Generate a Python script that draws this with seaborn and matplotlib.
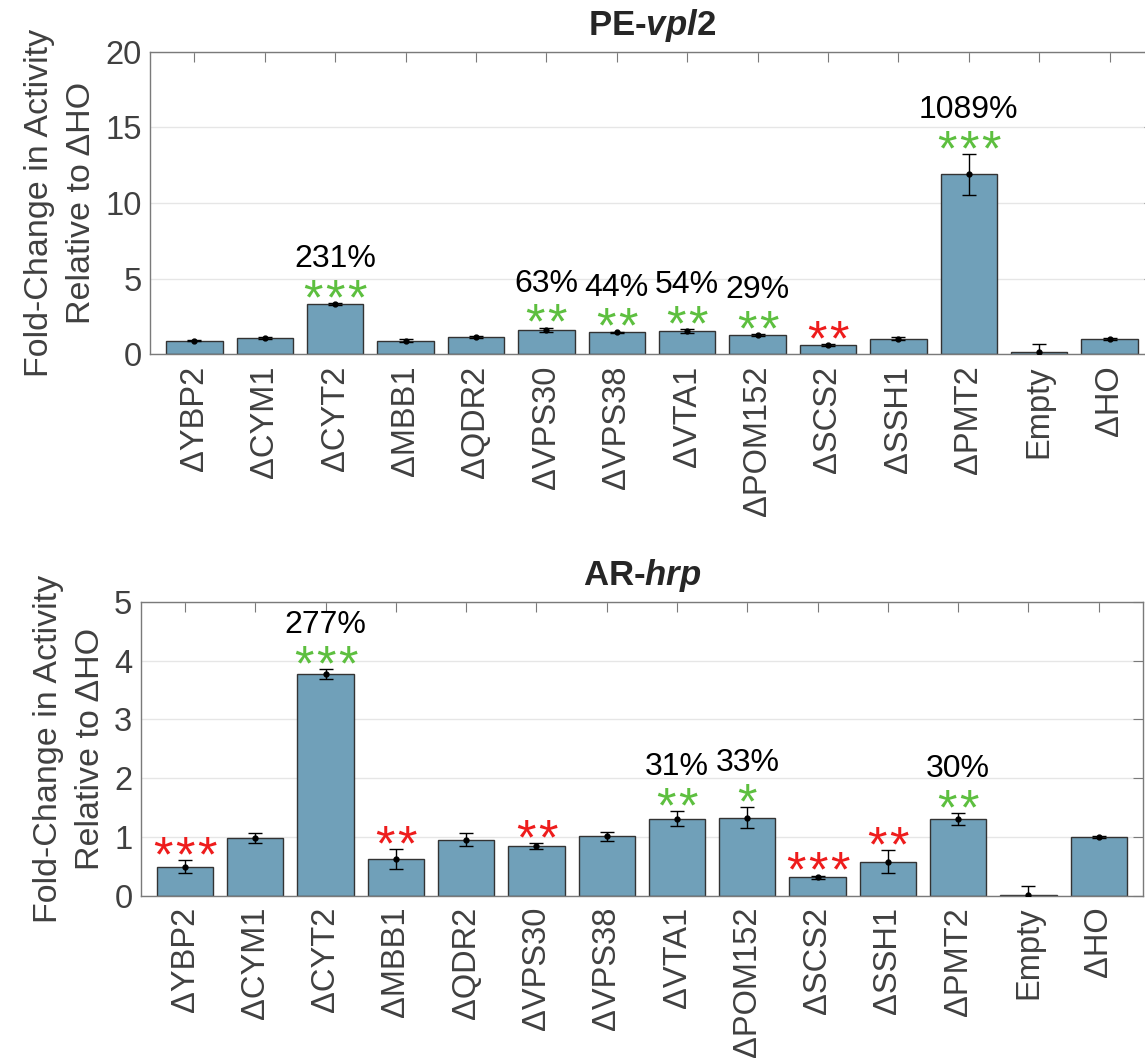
import matplotlib
matplotlib.use("Agg")
import matplotlib.pyplot as plt
import seaborn as sns
import pandas as pd
import numpy as np

categories = ["ΔYBP2", "ΔCYM1", "ΔCYT2", "ΔMBB1", "ΔQDR2", "ΔVPS30", "ΔVPS38",
              "ΔVTA1", "ΔPOM152", "ΔSCS2", "ΔSSH1", "ΔPMT2", "Empty", "ΔHO"]

pe_values = [0.90, 1.06, 3.31, 0.88, 1.16, 1.63, 1.44, 1.54, 1.29, 0.61, 1.02, 11.89, 0.18, 1.00]
pe_errors = [0.04, 0.07, 0.05, 0.10, 0.07, 0.13, 0.05, 0.13, 0.05, 0.06, 0.10, 1.36, 0.50, 0.08]
pe_stars = ["", "", "***", "", "", "**", "**", "**", "**", "**", "", "***", "", ""]
pe_direction = [0, 0, 1, 0, 0, 1, 1, 1, 1, -1, 0, 1, 0, 0]
pe_pct = ["", "", "231%", "", "", "63%", "44%", "54%", "29%", "", "", "1089%", "", ""]

ar_values = [0.49, 0.98, 3.77, 0.62, 0.95, 0.85, 1.01, 1.31, 1.33, 0.31, 0.58, 1.30, 0.02, 1.00]
ar_errors = [0.11, 0.08, 0.09, 0.17, 0.11, 0.05, 0.08, 0.13, 0.18, 0.03, 0.19, 0.10, 0.15, 0.01]
ar_stars = ["***", "", "***", "**", "", "**", "", "**", "*", "***", "**", "**", "", ""]
ar_direction = [-1, 0, 1, -1, 0, -1, 0, 1, 1, -1, -1, 1, 0, 0]
ar_pct = ["", "", "277%", "", "", "", "", "31%", "33%", "", "", "30%", "", ""]

pe_yticks = [0, 5, 10, 15, 20]
ar_yticks = [0, 1, 2, 3, 4, 5]

sns.set_style("white")
plt.rcParams["font.family"] = ["Liberation Sans", "DejaVu Sans"]
plt.rcParams["mathtext.fontset"] = "custom"
plt.rcParams["mathtext.it"] = "Liberation Sans:italic:bold"
plt.rcParams["mathtext.rm"] = "Liberation Sans:bold"

BAR = "#70a0b9"
GREEN = "#5dbf3f"
RED = "#ee1c1c"
GRAY_TXT = "#404040"
SPINE = "#7a7a7a"

fig = plt.figure(figsize=(11.45, 10.62), dpi=100)
ax1 = fig.add_axes([0.1310, 0.6664, 0.8768, 0.2849])
ax2 = fig.add_axes([0.1229, 0.1566, 0.8754, 0.2766])

STAR_PITCH = 15.8  # points


def draw(ax, values, errors, stars, direction, pct, ymax, yticks, title):
    df = pd.DataFrame({"cat": categories, "val": values})
    sns.barplot(data=df, x="cat", y="val", color=BAR, saturation=1, width=0.8,
                edgecolor="#333333", linewidth=1.0, errorbar=None, ax=ax, zorder=2)
    x = np.arange(len(categories))
    ax.errorbar(x, values, yerr=errors, fmt="o", color="black", ms=3.5,
                elinewidth=1.0, capsize=5, capthick=1.0, zorder=4)
    ax.set_xlim(-0.63, 13.63)
    ax.set_ylim(0, ymax)
    ax.set_yticks(yticks)
    ax.set_xticks(x)
    ax.set_xticklabels(categories, rotation=90, fontsize=23.5, color=GRAY_TXT)
    ax.tick_params(axis="y", labelsize=23.5, labelcolor=GRAY_TXT)
    ax.tick_params(axis="both", direction="in", length=7.5, width=0.8,
                   color=SPINE, top=True, right=True)
    ax.tick_params(axis="x", pad=8)
    ax.tick_params(axis="y", pad=6)
    ax.yaxis.grid(True, color="#e6e6e6", linewidth=1.0, zorder=0)
    ax.xaxis.grid(False)
    ax.set_axisbelow(True)
    for s in ax.spines.values():
        s.set_color(SPINE)
        s.set_linewidth(1.0)
    ax.set_xlabel("")
    ax.set_ylabel("Fold-Change in Activity\nRelative to ΔHO", fontsize=24.5,
                  color=GRAY_TXT, linespacing=1.45, labelpad=6)
    ax.set_title(title, fontsize=25, fontweight="bold", pad=12)
    for i in range(len(categories)):
        top = values[i] + errors[i]
        if stars[i]:
            col = GREEN if direction[i] > 0 else RED
            n = len(stars[i])
            for k in range(n):
                dx = (k - (n - 1) / 2) * STAR_PITCH
                ax.annotate("*", (i, top), xytext=(dx, -8), textcoords="offset points",
                            ha="center", va="baseline", fontsize=36, color=col, zorder=5,
                            annotation_clip=False)
        if pct[i]:
            ax.annotate(pct[i], (i, top), xytext=(0, 26), textcoords="offset points",
                        ha="center", va="baseline", fontsize=23, color="black", zorder=5,
                        annotation_clip=False)


draw(ax1, pe_values, pe_errors, pe_stars, pe_direction, pe_pct, 20, pe_yticks,
     r"PE-$\mathit{vpl2}$")
draw(ax2, ar_values, ar_errors, ar_stars, ar_direction, ar_pct, 5, ar_yticks,
     r"AR-$\mathit{hrp}$")

fig.savefig("out.png", dpi=100)
